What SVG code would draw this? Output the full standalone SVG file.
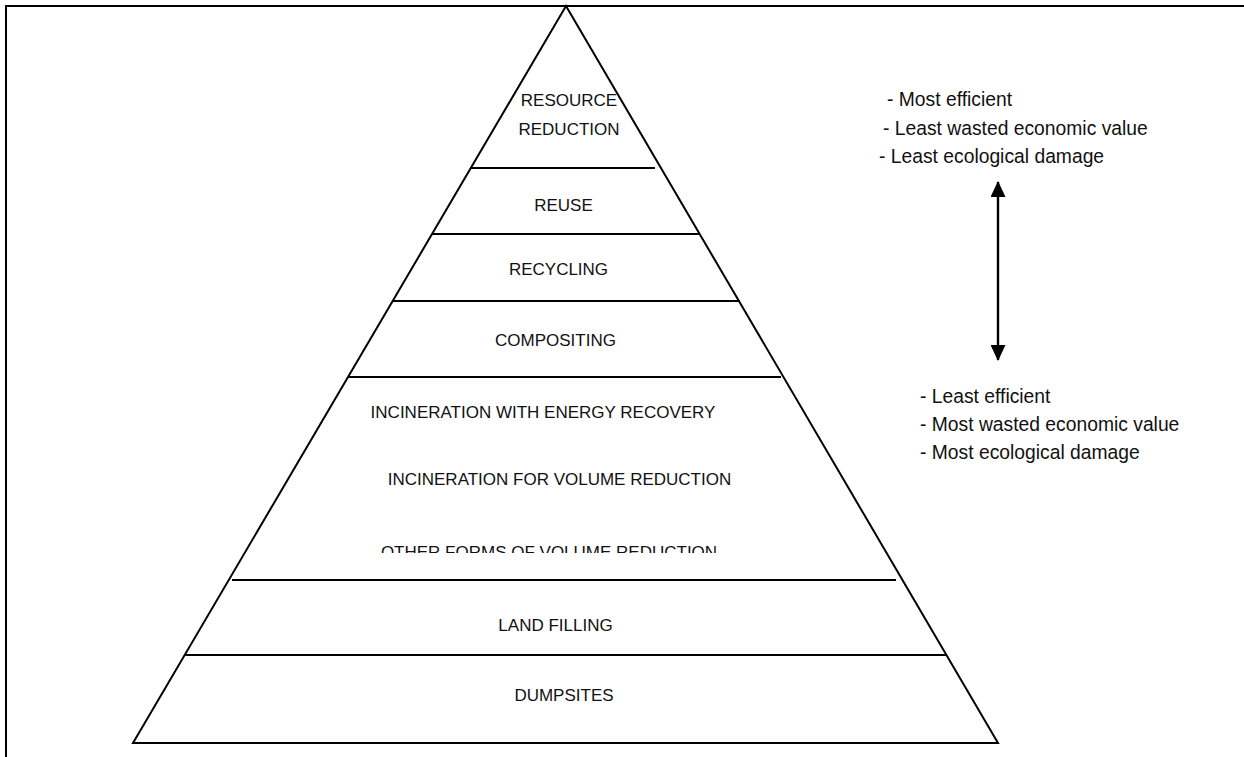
<svg xmlns="http://www.w3.org/2000/svg" width="1244" height="757" viewBox="0 0 1244 757">
<style>
.ln{stroke:#000;stroke-width:2;fill:none}
.lbl{font-family:"Liberation Sans",Arial,sans-serif;font-size:17px;fill:#111;text-anchor:middle}
.note{font-family:"Liberation Sans",Arial,sans-serif;font-size:19.3px;fill:#111}
</style>
<defs>
<marker id="ah" viewBox="0 0 16 15" refX="15" refY="7.5" markerWidth="16" markerHeight="15" markerUnits="userSpaceOnUse" orient="auto-start-reverse">
<path d="M0,0 L16,7.5 L0,15 Z" fill="#000"/>
</marker>
<clipPath id="clipOther"><rect x="300" y="520" width="500" height="33"/></clipPath>
</defs>
<rect width="1244" height="757" fill="#fff"/>
<g id="frame">
<path class="ln" d="M6,757 V6 H1244" stroke-width="2.5"/>
</g>
<g id="pyramid">
<path class="ln" d="M566,6 L133,743 H998 Z" stroke-linejoin="miter"/>
</g>
<g id="dividers">
<line class="ln" x1="471" y1="168" x2="655" y2="168"/>
<line class="ln" x1="432" y1="234" x2="699" y2="234"/>
<line class="ln" x1="393" y1="301" x2="740" y2="301"/>
<line class="ln" x1="348" y1="377" x2="781" y2="377"/>
<line class="ln" x1="232" y1="580" x2="896" y2="580"/>
<line class="ln" x1="185" y1="655" x2="947" y2="655"/>
</g>
<g id="tier-resource-reduction">
<text class="lbl" x="569" y="106">RESOURCE</text>
<text class="lbl" x="569" y="135">REDUCTION</text>
</g>
<g id="tier-reuse"><text class="lbl" x="563.5" y="211">REUSE</text></g>
<g id="tier-recycling"><text class="lbl" x="558.5" y="275">RECYCLING</text></g>
<g id="tier-compositing"><text class="lbl" x="555.5" y="346">COMPOSITING</text></g>
<g id="tier-incineration">
<text class="lbl" x="543" y="418">INCINERATION WITH ENERGY RECOVERY</text>
<text class="lbl" x="559.5" y="485">INCINERATION FOR VOLUME REDUCTION</text>
<text class="lbl" x="549" y="558" clip-path="url(#clipOther)">OTHER FORMS OF VOLUME REDUCTION</text>
</g>
<g id="tier-land-filling"><text class="lbl" x="555.5" y="631">LAND FILLING</text></g>
<g id="tier-dumpsites"><text class="lbl" x="564" y="701">DUMPSITES</text></g>
<g id="notes-top">
<text class="note" x="887" y="106">- Most efficient</text>
<text class="note" x="883" y="135">- Least wasted economic value</text>
<text class="note" x="879" y="163">- Least ecological damage</text>
</g>
<g id="notes-bottom">
<text class="note" x="920" y="403">- Least efficient</text>
<text class="note" x="920" y="431">- Most wasted economic value</text>
<text class="note" x="920" y="459">- Most ecological damage</text>
</g>
<g id="connectors">
<line x1="998" y1="182" x2="998" y2="360" stroke="#000" stroke-width="2.4" marker-start="url(#ah)" marker-end="url(#ah)"/>
</g>
</svg>
